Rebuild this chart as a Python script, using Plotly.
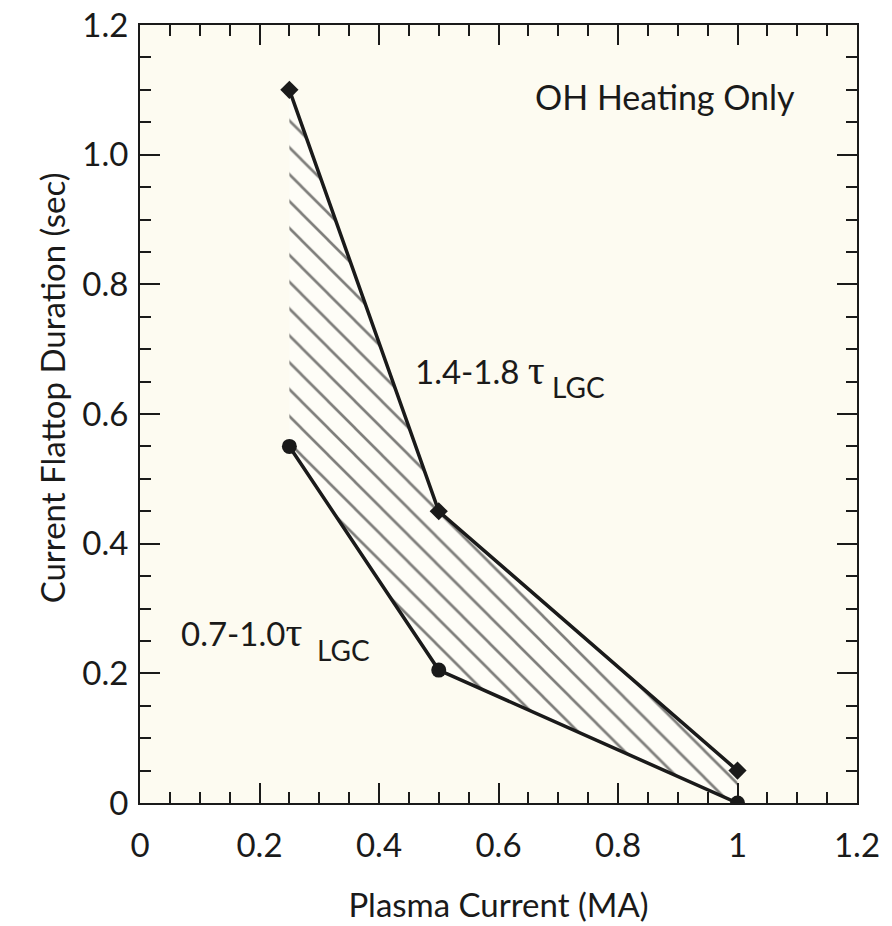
import plotly.graph_objects as go

# Data
upper_x = [0.25, 0.5, 1.0]
upper_y = [1.10, 0.45, 0.05]
lower_x = [0.25, 0.5, 1.0]
lower_y = [0.55, 0.205, 0.0]

x_tickvals = [0, 0.2, 0.4, 0.6, 0.8, 1.0, 1.2]
x_ticktext = ["0", "0.2", "0.4", "0.6", "0.8", "1", "1.2"]
y_tickvals = [0, 0.2, 0.4, 0.6, 0.8, 1.0, 1.2]
y_ticktext = ["0", "0.2", "0.4", "0.6", "0.8", "1.0", "1.2"]

FONT = "Lato"
INK = "#1a1a1a"
TAU = '<span style="font-family:Liberation Serif;font-size:42px">τ</span>'

fig = go.Figure()

# Hatched band between the two curves
poly_x = upper_x + lower_x[::-1]
poly_y = upper_y + lower_y[::-1]
fig.add_trace(go.Scatter(
    x=poly_x, y=poly_y, mode="lines", fill="toself",
    line=dict(width=0, color="rgba(0,0,0,0)"),
    fillcolor="rgba(0,0,0,0)",
    fillpattern=dict(shape="\\", size=19, solidity=0.14,
                     fgcolor="#000000", bgcolor="rgba(255,255,255,0.4)"),
    hoverinfo="skip", showlegend=False,
))

fig.add_trace(go.Scatter(
    x=upper_x, y=upper_y, mode="lines+markers",
    line=dict(color=INK, width=3.5),
    marker=dict(symbol="diamond", size=14, color=INK),
    showlegend=False,
))
fig.add_trace(go.Scatter(
    x=lower_x, y=lower_y, mode="lines+markers",
    line=dict(color=INK, width=3.5),
    marker=dict(symbol="circle", size=15, color=INK),
    showlegend=False,
))

axis_common = dict(
    showline=True, linecolor=INK, linewidth=2, mirror="allticks",
    ticks="inside", ticklen=20, tickwidth=2, tickcolor=INK,
    showgrid=False, zeroline=False, automargin=False,
    ticklabeloverflow="allow",
    tickfont=dict(family=FONT, size=33, color=INK),
    minor=dict(ticks="inside", ticklen=11, tickwidth=2, tickcolor=INK,
               dtick=0.05, showgrid=False),
)

fig.update_xaxes(
    range=[0, 1.2], tickmode="array", tickvals=x_tickvals, ticktext=x_ticktext,
    title=dict(text="Plasma Current (MA)", font=dict(family=FONT, size=33, color=INK),
               standoff=31),
    ticklabelstandoff=12,
    **axis_common,
)
fig.update_yaxes(
    range=[0, 1.2], tickmode="array", tickvals=y_tickvals, ticktext=y_ticktext,
    ticklabelstandoff=3,
    **axis_common,
)

# y-axis title placed as an annotation (it sits a little above the axis centre)
fig.add_annotation(x=-0.153, y=0.640, xref="paper", yref="y",
                   text="Current Flattop Duration (sec)", textangle=-90,
                   showarrow=False, font=dict(family=FONT, size=33, color=INK))

ann_font = dict(family=FONT, size=33, color=INK)
sub_font = dict(family=FONT, size=28, color=INK)
fig.add_annotation(x=0.879, y=1.089, xref="x", yref="y", text="OH Heating Only",
                   showarrow=False, font=dict(family=FONT, size=34, color=INK))
fig.add_annotation(x=0.457, y=0.668, xref="x", yref="y", xanchor="left",
                   text="1.4-1.8 " + TAU, showarrow=False, font=ann_font)
fig.add_annotation(x=0.687, y=0.641, xref="x", yref="y", xanchor="left",
                   text="LGC", showarrow=False, font=sub_font)
fig.add_annotation(x=0.065, y=0.264, xref="x", yref="y", xanchor="left",
                   text="0.7-1.0" + TAU, showarrow=False, font=ann_font)
fig.add_annotation(x=0.293, y=0.236, xref="x", yref="y", xanchor="left",
                   text="LGC", showarrow=False, font=sub_font)

# The page body adds an 8px margin, so the margins are offset by it
fig.update_layout(
    width=892, height=926,
    margin=dict(l=132, r=43, t=17, b=131),
    paper_bgcolor="white", plot_bgcolor="#fdfbf1",
    font=dict(family=FONT, color=INK),
)

fig.write_html("out.html")
